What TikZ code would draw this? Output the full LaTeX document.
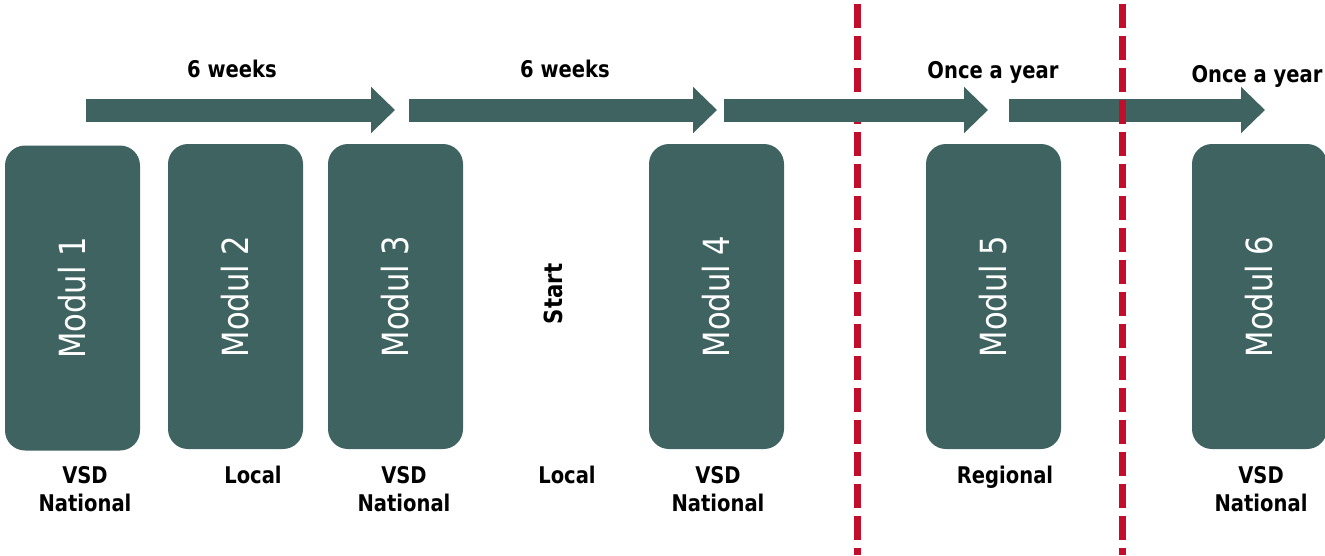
\documentclass[tikz,border=0pt]{standalone}
\usepackage{fontspec}
\setmainfont{DejaVu Sans}[FakeStretch=0.85]
\usepackage{tikz}
\usetikzlibrary{arrows.meta}

\definecolor{modgreen}{RGB}{63,99,97}
\definecolor{cutred}{RGB}{194,14,42}

\tikzset{
  modbox/.style={fill=modgreen, rounded corners=20pt, rotate=90,
    minimum width=305pt, minimum height=135pt, inner sep=0pt,
    text=white, font=\fontsize{36}{40}\selectfont},
  lbl/.style={anchor=north, inner sep=0pt, align=center,
    font=\bfseries\fontsize{23}{28}\selectfont},
  steplbl/.style={anchor=base, inner sep=0pt,
    font=\bfseries\fontsize{23}{28}\selectfont},
  bigarrow/.style={draw=modgreen, line width=23pt,
    -{Triangle[length=24pt,width=45pt]}},
  cutline/.style={draw=cutred, line width=7pt, dash pattern=on 24pt off 8pt}
}

\begin{document}
\begin{tikzpicture}[x=1pt,y=-1pt]
\useasboundingbox (0,0) rectangle (1325,555);

\node[modbox] (m1) at (72.5,298) {Modul 1};
\node[modbox] (m2) at (235.5,296.5) {Modul 2};
\node[modbox] (m3) at (395.5,296.5) {Modul 3};
\node[modbox] (m4) at (716.5,296.5) {Modul 4};
\node[modbox] (m5) at (993.5,296.5) {Modul 5};
\node[modbox] (m6) at (1259.5,296.5) {Modul 6};

\node[rotate=90, inner sep=0pt, font=\bfseries\fontsize{25}{30}\selectfont] (start) at (553,294) {Start};

\node[lbl] (p1) at (85,466) {VSD\\National};
\node[lbl] (p2) at (253,466) {Local};
\node[lbl] (p3) at (404,466) {VSD\\National};
\node[lbl] (p4) at (567,466) {Local};
\node[lbl] (p5) at (718,466) {VSD\\National};
\node[lbl] (p6) at (1005,466) {Regional};
\node[lbl] (p7) at (1261,466) {VSD\\National};

% cut between module 4 and 5
\coordinate (c1t) at (857,4);
\coordinate (c1b) at (857,555);
\draw[cutline] (c1t) -- (c1b);

\coordinate (a1s) at (86,110);
\coordinate (a1e) at (395,110);
\coordinate (a2s) at (409,110);
\coordinate (a2e) at (717,110);
\coordinate (a3s) at (724,110);
\coordinate (a3e) at (988,110);
\coordinate (a4s) at (1009,110);
\coordinate (a4e) at (1265,110);

\draw[bigarrow] (a1s) -- (a1e);
\draw[bigarrow] (a2s) -- (a2e);
\draw[bigarrow] (a3s) -- (a3e);
\draw[bigarrow] (a4s) -- (a4e);

\node[steplbl] (t1) at (232,77) {6 weeks};
\node[steplbl] (t2) at (565,77) {6 weeks};
\node[steplbl] (t3) at (993,78) {Once a year};
\node[steplbl] (t4) at (1257,82) {Once a year};

% cut between module 5 and 6
\coordinate (c2t) at (1122,4);
\coordinate (c2b) at (1122,555);
\draw[cutline] (c2t) -- (c2b);
\end{tikzpicture}
\end{document}
